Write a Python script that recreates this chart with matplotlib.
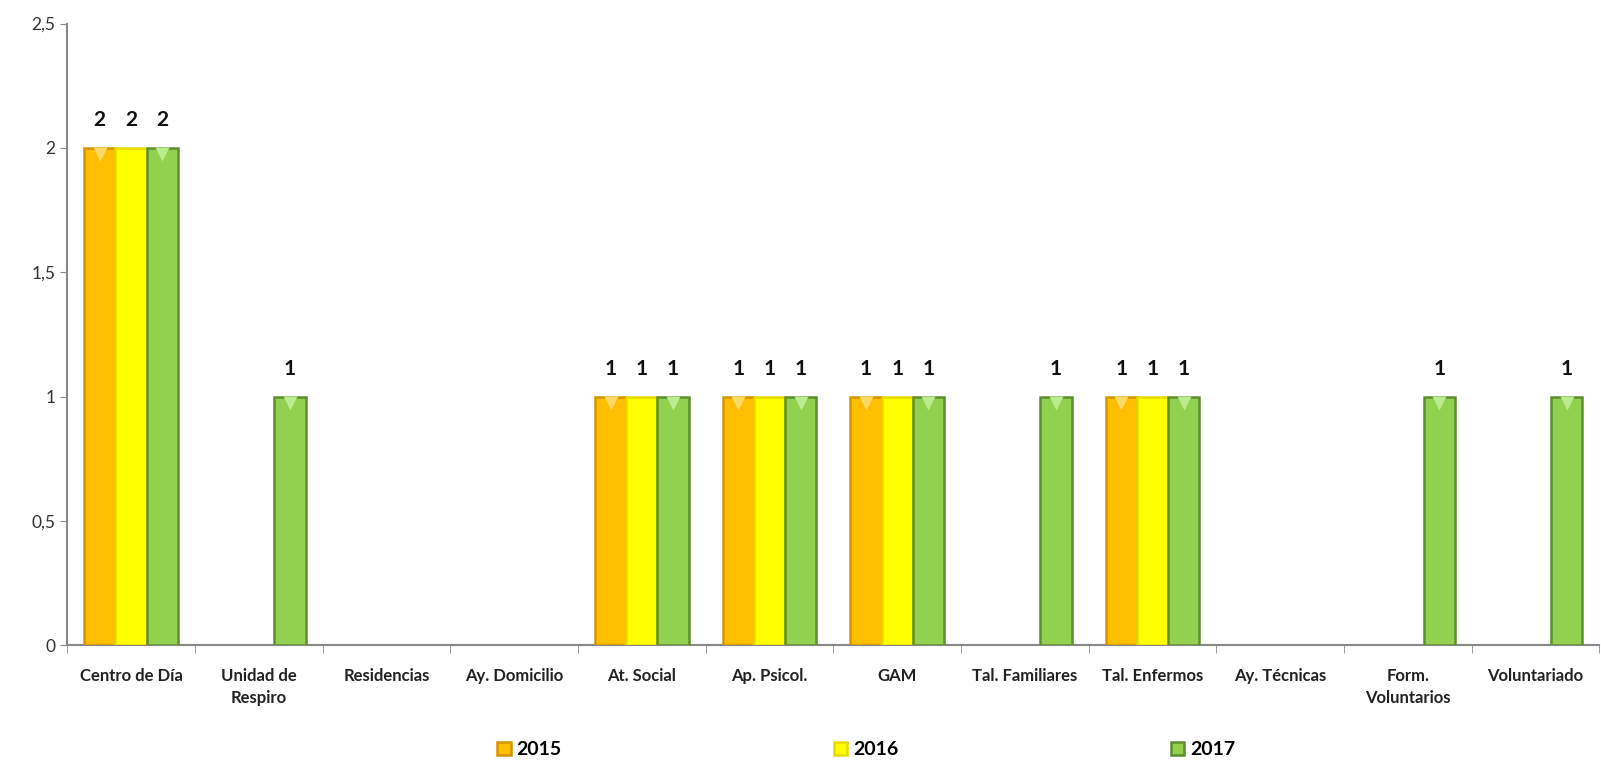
# Servicios por año (2015-2017)

import numpy as np
import matplotlib.pyplot as plt
from matplotlib.ticker import FuncFormatter, FixedLocator
from matplotlib.transforms import offset_copy


# Data

categorias = ["Centro de Día", "Unidad de\nRespiro", "Residencias", "Ay. Domicilio", "At. Social",
              "Ap. Psicol.", "GAM", "Tal. Familiares", "Tal. Enfermos", "Ay. Técnicas",
              "Form.\nVoluntarios", "Voluntariado"]
anios = ["2015", "2016", "2017"]
v2015 = [2, 0, 0, 0, 1, 1, 1, 0, 1, 0, 0, 0]
v2016 = [2, 0, 0, 0, 1, 1, 1, 0, 1, 0, 0, 0]
v2017 = [2, 1, 0, 0, 1, 1, 1, 1, 1, 0, 1, 1]
yticks = [0, 0.5, 1, 1.5, 2, 2.5]

colores = ["#FFBF00", "#FFFF00", "#92D050"]
bordes = ["#D89400", "#E6DC00", "#5E8F2E"]
brillos = ["#FFD966", "#FFFF66", "#BDEB8F"]


# Plot

plt.rcParams["font.family"] = ["Lato", "DejaVu Sans"]

fig = plt.figure(figsize=(16.01, 7.62), dpi=100)
ax = fig.add_axes([0.042, 0.153, 0.957, 0.816])

x = np.arange(len(categorias))
w = 0.245
tri = offset_copy(ax.transData, fig=fig, x=0, y=-6, units="dots")

for i, (serie, c, b, l) in enumerate(zip([v2015, v2016, v2017], colores, bordes, brillos)):
    pos = x + (i - 1) * w
    vals = np.array(serie, dtype=float)
    mask = vals > 0
    ax.bar(pos[mask], vals[mask], width=w, color=c, edgecolor=b, linewidth=1.8, label=anios[i], zorder=3)
    if i != 1:
        ax.plot(pos[mask], vals[mask], "v", ms=10, color=l, mec="none", transform=tri, zorder=4)
    for p, v in zip(pos[mask], vals[mask]):
        ax.annotate(f"{v:.0f}", xy=(p, v), xytext=(0, 20), textcoords="offset points",
                    ha="center", va="center", fontsize=15, fontweight="bold", color="#111111")

ax.set_xlim(-0.5, len(categorias) - 0.5)
ax.set_ylim(0, 2.5)
ax.set_yticks(yticks)
ax.yaxis.set_major_formatter(FuncFormatter(lambda v, p: f"{v:g}".replace(".", ",")))
ax.tick_params(axis="y", labelsize=12.5, labelcolor="#333333", length=5, color="#888888")

ax.set_xticks(x)
ax.set_xticklabels(categorias, fontsize=12, fontweight="bold", color="#222222", linespacing=1.5)
ax.tick_params(axis="x", which="major", length=0, pad=16)
ax.xaxis.set_minor_locator(FixedLocator(np.arange(len(categorias) + 1) - 0.5))
ax.tick_params(axis="x", which="minor", length=6, color="#888888")

for s in ["top", "right"]:
    ax.spines[s].set_visible(False)
for s in ["left", "bottom"]:
    ax.spines[s].set_color("#888888")
    ax.spines[s].set_linewidth(1.5)

fig.legend(loc="center", bbox_to_anchor=(0.541, 0.016), ncol=3, frameon=False,
           prop={"size": 14, "weight": "bold"}, handlelength=0.7, handleheight=0.7,
           handletextpad=0.3, columnspacing=14.0)

plt.savefig("out.png", dpi=100)
